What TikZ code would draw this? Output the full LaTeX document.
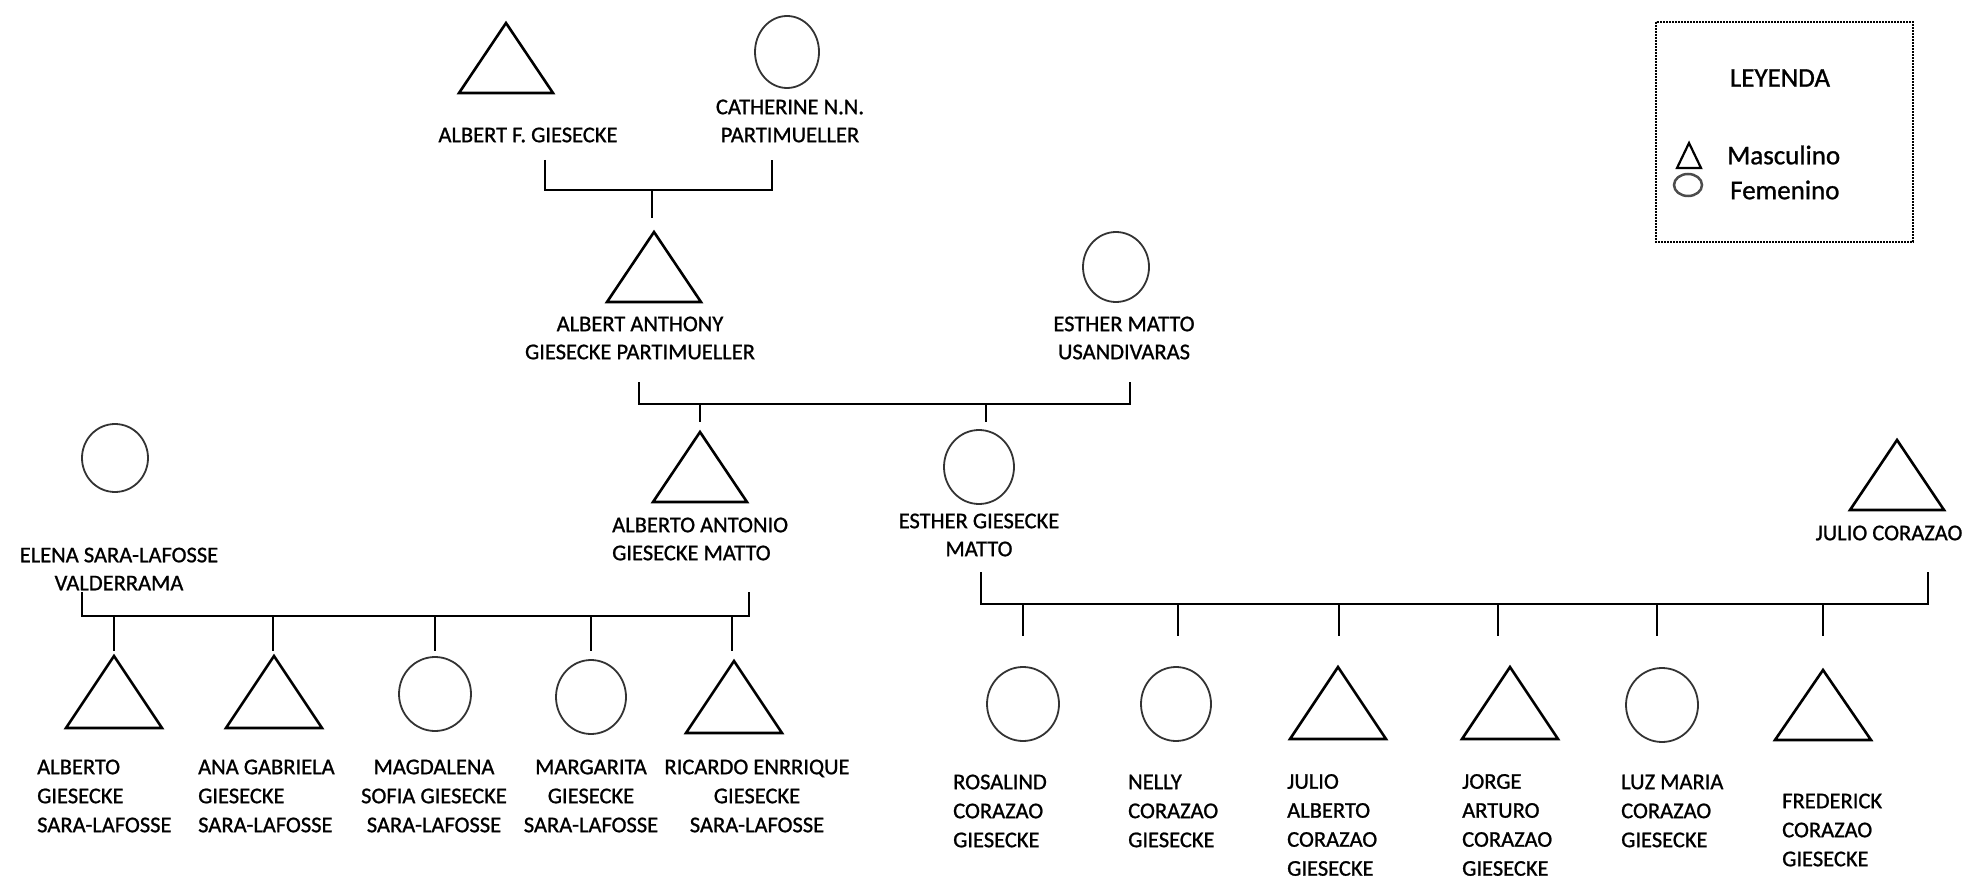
\documentclass[tikz,border=0pt]{standalone}
\usepackage{fontspec}
\setmainfont[FakeBold=1]{Carlito}
\begin{document}
\begin{tikzpicture}[x=1pt,y=-1pt,
	masc/.style={line width=2.6pt,line join=miter},
	fem/.style={line width=1.8pt,black!80},
	bar/.style={line width=2.2pt},
	stem/.style={line width=1.5pt},
	lbl/.style={font=\fontsize{22.5}{28}\selectfont,inner sep=0pt,align=center},
	lbll/.style={lbl,align=left,anchor=west},
	kids/.style={font=\fontsize{22.5}{29}\selectfont}]
	\useasboundingbox (0,0) rectangle (1972,882);
	% abuelos
	\coordinate (af) at (506,58);
	\coordinate (cp) at (787,52);
	\draw[masc] (af) ++(0,-35) -- ++(47,70) -- ++(-94,0) -- cycle;
	\draw[fem] (cp) ellipse [x radius=32,y radius=36];
	\node[lbl] (laf) at (528,135) {ALBERT F. GIESECKE};
	\node[lbl] (lcp) at (790,121) {CATHERINE N.N.\\PARTIMUELLER};
	\coordinate (u1l) at (545,160);
	\coordinate (u1r) at (772,160);
	\coordinate (u1) at (652,190);
	\coordinate (u1d) at (652,218);
	\draw[bar] (u1l) |- (u1) -| (u1r);
	\draw[stem] (u1) -- (u1d);
	% padres
	\coordinate (aa) at (654,267);
	\coordinate (em) at (1116,267);
	\draw[masc] (aa) ++(0,-35) -- ++(47,70) -- ++(-94,0) -- cycle;
	\draw[fem] (em) ellipse [x radius=33,y radius=35];
	\node[lbl] (laa) at (640,338) {ALBERT ANTHONY\\GIESECKE PARTIMUELLER};
	\node[lbl] (lem) at (1124,338) {ESTHER MATTO\\USANDIVARAS};
	\coordinate (u2l) at (639,382);
	\coordinate (u2r) at (1130,382);
	\coordinate (u2) at (700,404);
	\coordinate (u2b) at (986,404);
	\coordinate (u2d) at (700,422);
	\coordinate (u2e) at (986,422);
	\draw[bar] (u2l) |- (u2) -- (u2b) -| (u2r);
	\draw[stem] (u2) -- (u2d);
	\draw[stem] (u2b) -- (u2e);
	% hijos y parejas
	\coordinate (an) at (700,467);
	\coordinate (eg) at (979,467);
	\coordinate (el) at (115,458);
	\coordinate (jc) at (1897,475);
	\draw[masc] (an) ++(0,-35) -- ++(47,70) -- ++(-94,0) -- cycle;
	\draw[fem] (eg) ellipse [x radius=35,y radius=37];
	\draw[fem] (el) ellipse [x radius=33,y radius=34];
	\draw[masc] (jc) ++(0,-35) -- ++(47,70) -- ++(-94,0) -- cycle;
	\node[lbll] (lan) at (612,539) {ALBERTO ANTONIO\\GIESECKE MATTO};
	\node[lbl] (leg) at (979,535) {ESTHER GIESECKE\\MATTO};
	\node[lbl] (lel) at (119,569) {ELENA SARA-LAFOSSE\\VALDERRAMA};
	\node[lbl] (ljc) at (1889,533) {JULIO CORAZAO};
	% familia Giesecke Sara-Lafosse
	\coordinate (u3l) at (82,592);
	\coordinate (u3r) at (749,592);
	\coordinate (u3) at (82,616);
	\draw[bar] (u3l) -- (u3) -| (u3r);
	\foreach \x/\k in {114/1,273/2,435/3,591/4,732/5}{
		\coordinate (s\k) at (\x,616);
		\coordinate (d\k) at (\x,651);
		\draw[stem] (s\k) -- (d\k);
	}
	\coordinate (k1) at (114,692);
	\coordinate (k2) at (274,692);
	\coordinate (k3) at (435,694);
	\coordinate (k4) at (591,697);
	\coordinate (k5) at (734,697);
	\draw[masc] (k1) ++(0,-36) -- ++(48,72) -- ++(-96,0) -- cycle;
	\draw[masc] (k2) ++(0,-36) -- ++(48,72) -- ++(-96,0) -- cycle;
	\draw[fem] (k3) ellipse [x radius=36,y radius=37];
	\draw[fem] (k4) ellipse [x radius=35,y radius=37];
	\draw[masc] (k5) ++(0,-36) -- ++(48,72) -- ++(-96,0) -- cycle;
	\node[lbll,kids] (lk1) at (37,796) {ALBERTO\\GIESECKE\\SARA-LAFOSSE};
	\node[lbll,kids] (lk2) at (198,796) {ANA GABRIELA\\GIESECKE\\SARA-LAFOSSE};
	\node[lbl,kids] (lk3) at (434,796) {MAGDALENA\\SOFIA GIESECKE\\SARA-LAFOSSE};
	\node[lbl,kids] (lk4) at (591,796) {MARGARITA\\GIESECKE\\SARA-LAFOSSE};
	\node[lbl,kids] (lk5) at (757,796) {RICARDO ENRRIQUE\\GIESECKE\\SARA-LAFOSSE};
	% familia Corazao Giesecke
	\coordinate (u4l) at (981,572);
	\coordinate (u4r) at (1928,572);
	\coordinate (u4) at (981,604);
	\draw[bar] (u4l) -- (u4) -| (u4r);
	\foreach \x/\k in {1023/1,1178/2,1339/3,1498/4,1657/5,1823/6}{
		\coordinate (t\k) at (\x,604);
		\coordinate (e\k) at (\x,636);
		\draw[stem] (t\k) -- (e\k);
	}
	\coordinate (r1) at (1023,704);
	\coordinate (r2) at (1176,704);
	\coordinate (r3) at (1338,703);
	\coordinate (r4) at (1510,703);
	\coordinate (r5) at (1662,705);
	\coordinate (r6) at (1823,705);
	\draw[fem] (r1) ellipse [x radius=36,y radius=37];
	\draw[fem] (r2) ellipse [x radius=35,y radius=37];
	\draw[masc] (r3) ++(0,-36) -- ++(48,72) -- ++(-96,0) -- cycle;
	\draw[masc] (r4) ++(0,-36) -- ++(48,72) -- ++(-96,0) -- cycle;
	\draw[fem] (r5) ellipse [x radius=36,y radius=37];
	\draw[masc] (r6) ++(0,-35) -- ++(48,70) -- ++(-96,0) -- cycle;
	\node[lbll,kids] (lr1) at (953,811) {ROSALIND\\CORAZAO\\GIESECKE};
	\node[lbll,kids] (lr2) at (1128,811) {NELLY\\CORAZAO\\GIESECKE};
	\node[lbll,kids] (lr3) at (1287,825) {JULIO\\ALBERTO\\CORAZAO\\GIESECKE};
	\node[lbll,kids] (lr4) at (1462,825) {JORGE\\ARTURO\\CORAZAO\\GIESECKE};
	\node[lbll,kids] (lr5) at (1621,811) {LUZ MARIA\\CORAZAO\\GIESECKE};
	\node[lbll,kids] (lr6) at (1782,830) {FREDERICK\\CORAZAO\\GIESECKE};
	% leyenda
	\draw[line width=2.6pt,dash pattern=on 2pt off 1pt] (1656,22) rectangle (1913,242);
	\node[lbl,font=\fontsize{27}{32}\selectfont] (ley) at (1780,78) {LEYENDA};
	\coordinate (lm) at (1689,156);
	\coordinate (lf) at (1688,185);
	\draw[line width=2.2pt] (lm) ++(0,-13) -- ++(12,25) -- ++(-24,0) -- cycle;
	\draw[line width=2.5pt,black!70] (lf) ellipse [x radius=14,y radius=11];
	\node[lbll,font=\fontsize{27}{32}\selectfont] (lms) at (1727,155) {Masculino};
	\node[lbll,font=\fontsize{27}{32}\selectfont] (lfe) at (1730,190) {Femenino};
\end{tikzpicture}
\end{document}
